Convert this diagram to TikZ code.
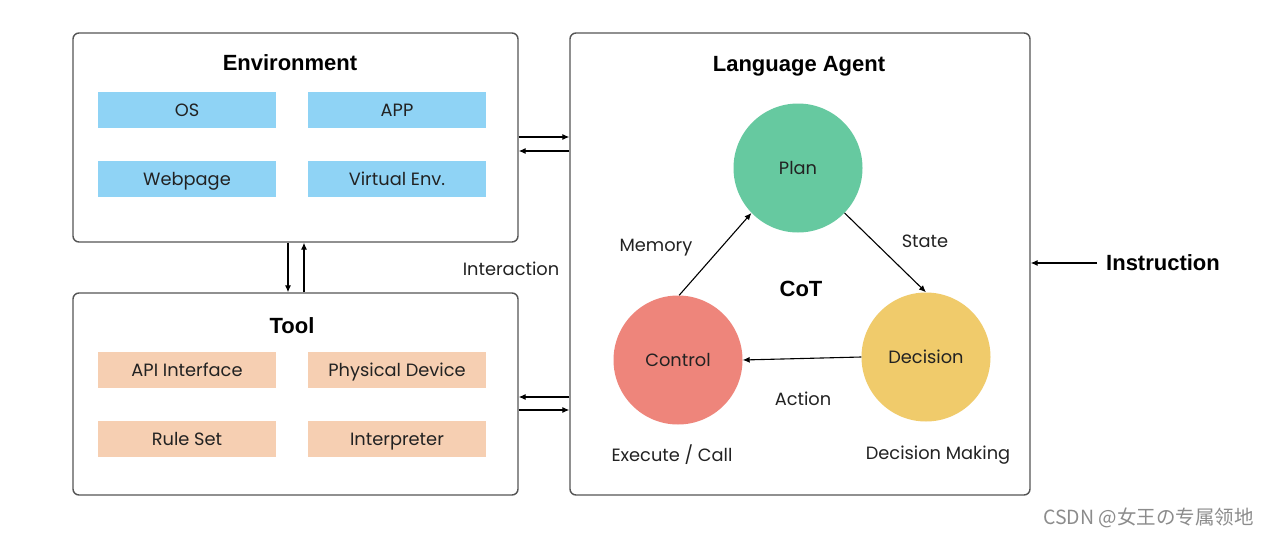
\documentclass[tikz,border=0pt]{standalone}
\usepackage{fontspec}
\setmainfont{Poppins}
\newfontfamily\titlefont{Liberation Sans}
\newfontfamily\cjkfont{Noto Sans CJK SC}
\usetikzlibrary{arrows.meta,positioning}
\definecolor{boxline}{HTML}{555555}
\definecolor{envblue}{HTML}{8FD3F5}
\definecolor{toolbeige}{HTML}{F6CFB2}
\definecolor{plangreen}{HTML}{66C9A0}
\definecolor{ctrlred}{HTML}{EE857B}
\definecolor{decyellow}{HTML}{F0CB6B}
\definecolor{txt}{HTML}{222222}
\begin{document}
\begin{tikzpicture}[x=1pt,y=-1pt,
  bigbox/.style={draw=boxline,line width=1.4pt,rounded corners=6pt,fill=white,inner sep=0pt},
  item/.style={inner sep=0pt,minimum width=178pt,minimum height=36pt,text height=14pt,text depth=1.6pt,font=\fontsize{17.8}{21}\selectfont,text=txt},
  envitem/.style={item,fill=envblue},
  toolitem/.style={item,fill=toolbeige},
  title/.style={font=\titlefont\bfseries\fontsize{22}{25}\selectfont,text=black,inner sep=0pt},
  lbl/.style={font=\fontsize{17.8}{21}\selectfont,text=txt,inner sep=0pt},
  circ/.style={circle,minimum size=129pt,inner sep=0pt,text height=14pt,text depth=1.6pt,font=\fontsize{17.8}{21}\selectfont,text=txt},
  arr/.style={-{Latex[length=7pt,width=6pt]},line width=1.1pt,black}]
\useasboundingbox (0,0) rectangle (1270,538);
\fill[white] (0,0) rectangle (1270,538);
% big boxes
\node[bigbox,minimum width=445pt,minimum height=209pt] (env) at (295.5,137.5) {};
\node[bigbox,minimum width=445pt,minimum height=202pt] (tool) at (295.5,394) {};
\node[bigbox,minimum width=460pt,minimum height=462pt] (agent) at (800,264) {};
% titles
\node[title] (envt) at (290,63) {Environment};
\node[title] (toolt) at (292,326) {Tool};
\node[title] (agentt) at (799,66) {Language Agent};
% env items
\node[envitem] (os) at (187,110) {OS};
\node[envitem] (app) at (397,110) {APP};
\node[envitem] (web) at (187,179) {Webpage};
\node[envitem] (venv) at (397,179) {Virtual Env.};
% tool items
\node[toolitem] (api) at (187,370) {API Interface};
\node[toolitem] (phys) at (397,370) {Physical Device};
\node[toolitem] (rule) at (187,439) {Rule Set};
\node[toolitem] (interp) at (397,439) {Interpreter};
% circles
\node[circ,fill=plangreen] (plan) at (798,168) {Plan};
\node[circ,fill=ctrlred] (ctrl) at (678,360) {Control};
\node[circ,fill=decyellow] (dec) at (926,357) {Decision};
% labels
\node[lbl] (mem) at (656,248) {Memory};
\node[lbl] (state) at (925,241) {State};
\node[title] (cot) at (801,289) {CoT};
\node[lbl] (action) at (803,399) {Action};
\node[lbl] (exec) at (672,455) {Execute / Call};
\node[lbl] (dm) at (938,455) {Decision Making};
\node[lbl] (inter) at (511,269) {Interaction};
\node[title,anchor=west] (instr) at (1106,263) {Instruction};
\node[font=\cjkfont\fontsize{19.5}{22}\selectfont,text=black!45,anchor=east,inner sep=0pt] (wm) at (1254,518) {CSDN @女王の专属领地};
% helper coordinates
\coordinate (y1) at (0,137);
\coordinate (y2) at (0,151);
\coordinate (y3) at (0,397);
\coordinate (y4) at (0,410);
\coordinate (x1) at (288,0);
\coordinate (x2) at (304,0);
\coordinate (iy) at (0,263);
\coordinate (instrstart) at (1097,263);
% connectors
\draw[arr] (env.east |- y1) -- (agent.west |- y1);
\draw[arr] (agent.west |- y2) -- (env.east |- y2);
\draw[arr] (agent.west |- y3) -- (tool.east |- y3);
\draw[arr] (tool.east |- y4) -- (agent.west |- y4);
\draw[arr] (env.south -| x1) -- (tool.north -| x1);
\draw[arr] (tool.north -| x2) -- (env.south -| x2);
\draw[arr] (instrstart) -- (agent.east |- iy);
\draw[arr] (ctrl.89) -- (plan.224);
\draw[arr] (plan.316) -- (dec.90);
\draw[arr] (dec.180) -- (ctrl.0);
\end{tikzpicture}
\end{document}
